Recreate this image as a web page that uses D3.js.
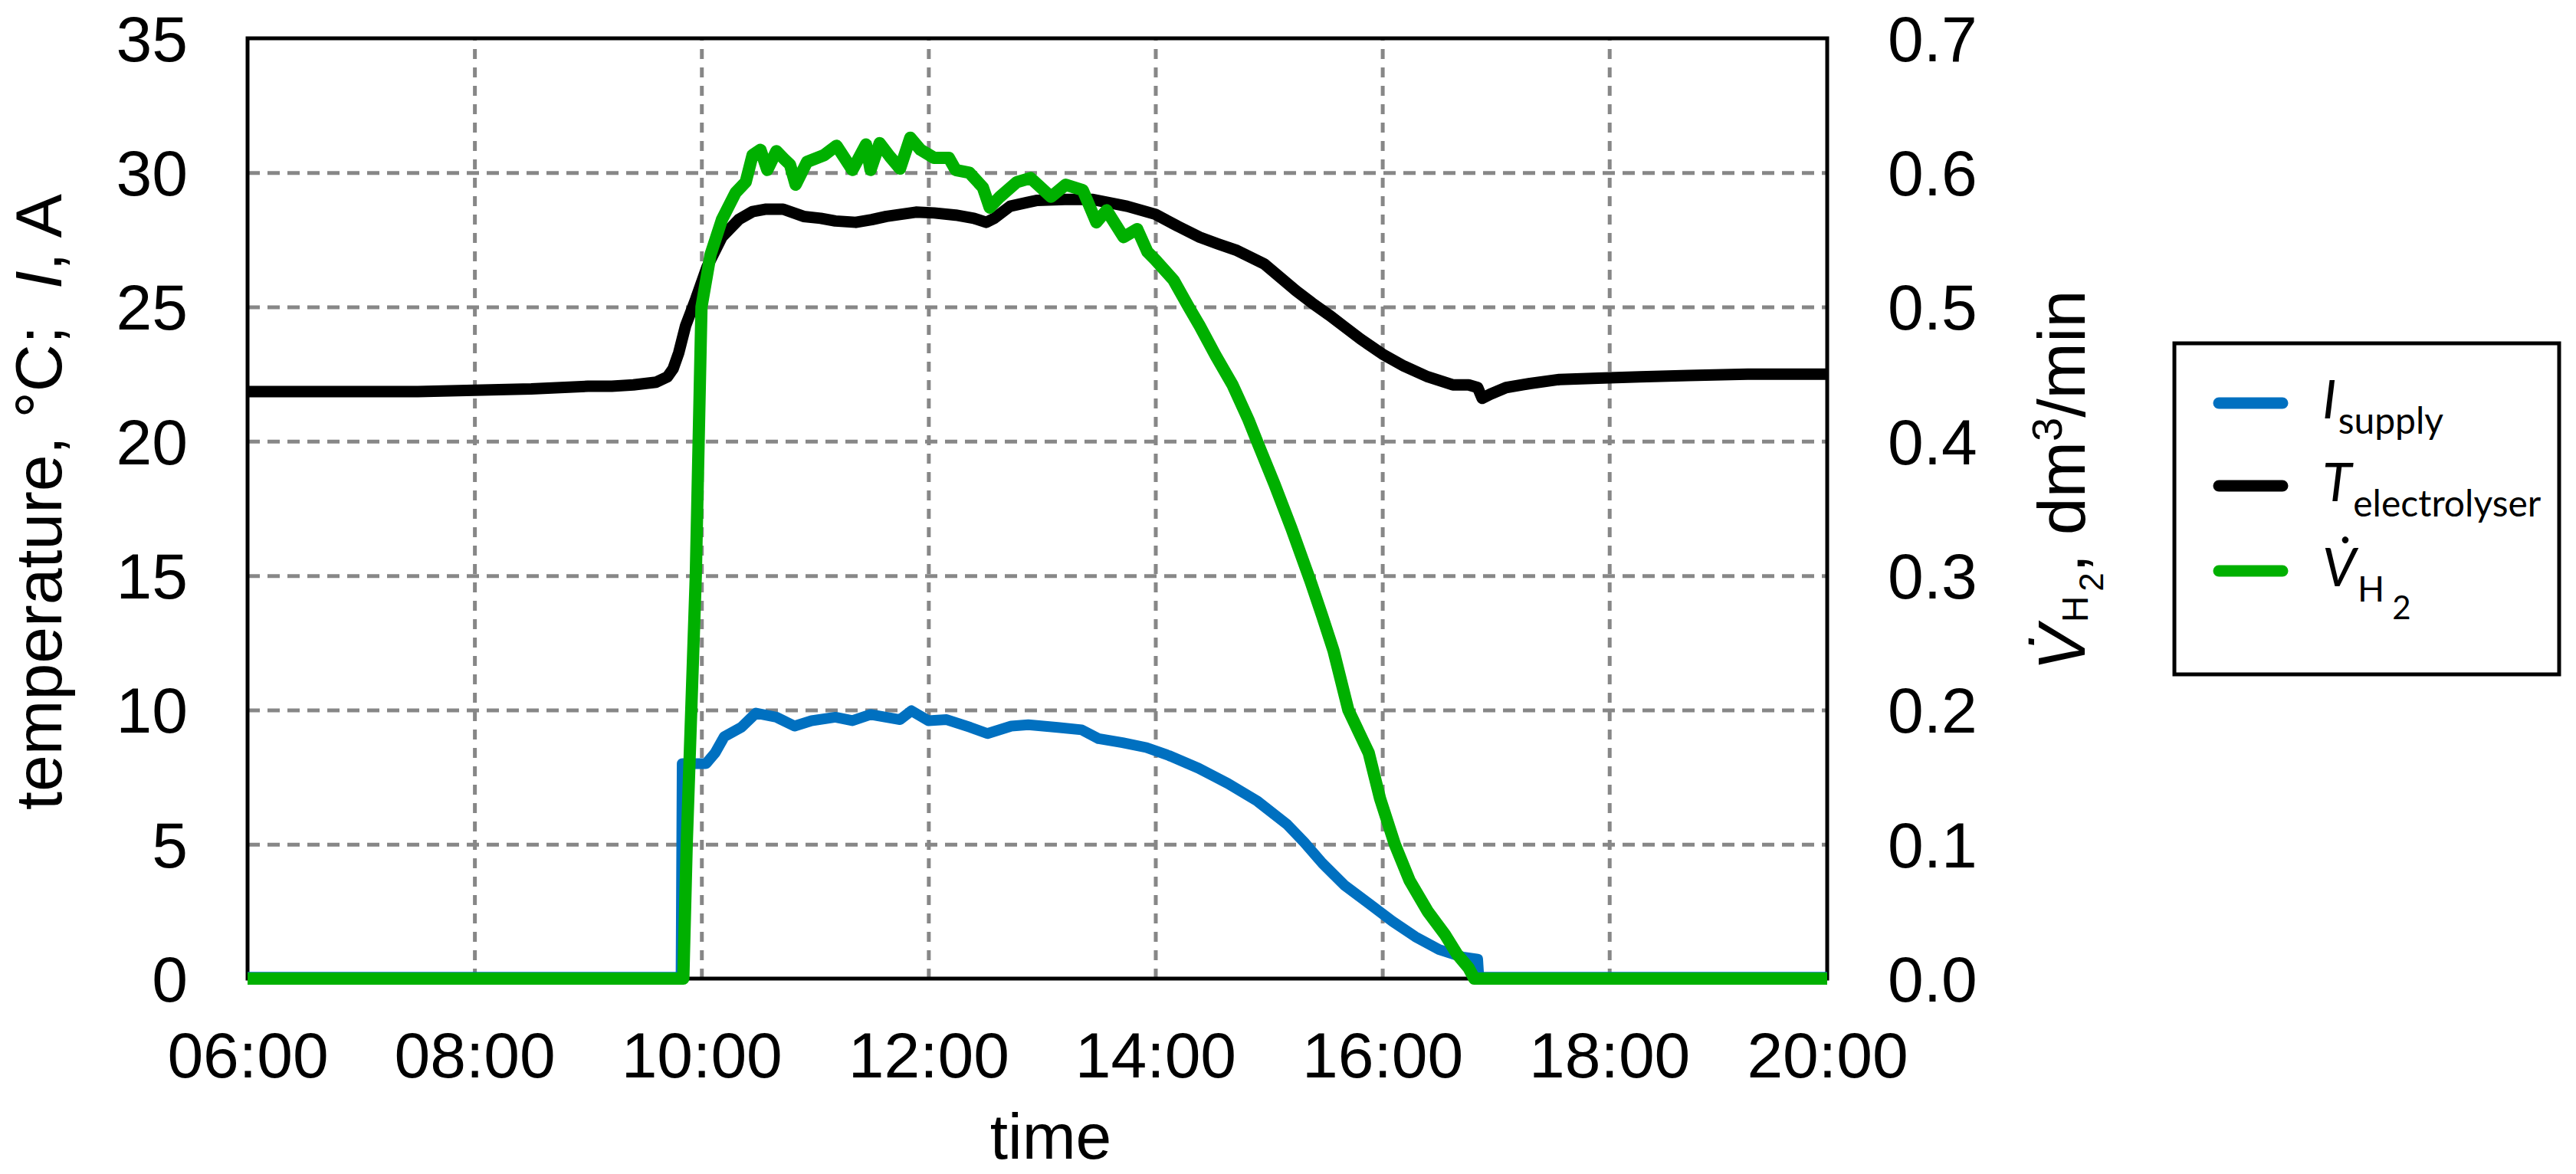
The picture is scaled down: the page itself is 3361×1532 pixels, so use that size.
<!DOCTYPE html>
<html>
<head>
<meta charset="utf-8">
<script src="https://cdn.jsdelivr.net/npm/d3@7"></script>
<style>
  html, body { margin: 0; padding: 0; background: #fff; }
  svg { display: block; }
  text { white-space: pre; }
</style>
</head>
<body>
<svg id="chart" width="3361" height="1532"></svg>
<script>
// ---------------- DATA ----------------
// time in decimal hours
const xTickHours = [6, 8, 10, 12, 14, 16, 18, 19.92];
const xTickLabels = ["06:00", "08:00", "10:00", "12:00", "14:00", "16:00", "18:00", "20:00"];
const yLeftTicks = [0, 5, 10, 15, 20, 25, 30, 35];
const yRightTicks = [0, 0.1, 0.2, 0.3, 0.4, 0.5, 0.6, 0.7];

// I_supply, A
const hoursI = [6.0, 9.82, 9.83, 10.04, 10.12, 10.2, 10.35, 10.48, 10.66, 10.82, 10.97, 11.18, 11.33, 11.49, 11.75, 11.85, 12.0, 12.16, 12.37, 12.52, 12.73, 12.88, 13.14, 13.35, 13.5, 13.71, 13.92, 14.12, 14.38, 14.64, 14.9, 15.16, 15.31, 15.47, 15.67, 15.88, 16.09, 16.29, 16.5, 16.71, 16.84, 16.85, 19.92];
const currentI = [0.05, 0.05, 8.0, 8.0, 8.4, 9.0, 9.35, 9.88, 9.73, 9.4, 9.6, 9.73, 9.6, 9.83, 9.64, 9.97, 9.6, 9.64, 9.35, 9.12, 9.4, 9.45, 9.35, 9.26, 8.93, 8.78, 8.6, 8.3, 7.83, 7.26, 6.6, 5.74, 5.08, 4.3, 3.46, 2.8, 2.13, 1.56, 1.08, 0.8, 0.72, 0.05, 0.05];

// T_electrolyser, °C
const hoursT = [6.0, 6.5, 7.0, 7.5, 8.0, 8.5, 9.0, 9.21, 9.4, 9.6, 9.7, 9.75, 9.8, 9.86, 9.95, 10.05, 10.18, 10.33, 10.45, 10.57, 10.72, 10.9, 11.05, 11.18, 11.36, 11.5, 11.63, 11.89, 12.05, 12.24, 12.4, 12.51, 12.58, 12.72, 12.88, 12.96, 13.2, 13.45, 13.75, 14.0, 14.2, 14.39, 14.55, 14.72, 14.96, 15.1, 15.24, 15.38, 15.53, 15.67, 15.81, 16.0, 16.19, 16.4, 16.62, 16.76, 16.84, 16.88, 16.95, 17.09, 17.3, 17.56, 17.9, 18.27, 18.7, 19.22, 19.6, 19.92];
const tempT = [21.85, 21.85, 21.85, 21.85, 21.9, 21.95, 22.05, 22.05, 22.1, 22.2, 22.4, 22.7, 23.3, 24.3, 25.3, 26.5, 27.6, 28.26, 28.55, 28.64, 28.64, 28.37, 28.3, 28.2, 28.15, 28.25, 28.37, 28.53, 28.5, 28.42, 28.3, 28.15, 28.3, 28.75, 28.9, 28.97, 29.0, 29.0, 28.75, 28.45, 28.0, 27.6, 27.35, 27.1, 26.6, 26.1, 25.6, 25.15, 24.7, 24.25, 23.8, 23.25, 22.8, 22.4, 22.1, 22.1, 22.0, 21.6, 21.75, 22.0, 22.15, 22.3, 22.35, 22.4, 22.45, 22.5, 22.5, 22.5];

// V_H2, dm3/min
const hoursV = [6.0, 9.84, 9.87, 9.91, 9.95, 9.98, 10.0, 10.08, 10.18, 10.3, 10.39, 10.45, 10.52, 10.58, 10.66, 10.73, 10.78, 10.83, 10.93, 11.08, 11.19, 11.33, 11.45, 11.49, 11.57, 11.66, 11.75, 11.84, 11.93, 12.05, 12.18, 12.24, 12.36, 12.48, 12.54, 12.63, 12.78, 12.9, 13.08, 13.21, 13.36, 13.48, 13.57, 13.72, 13.84, 13.93, 14.0, 14.16, 14.3, 14.39, 14.53, 14.68, 14.82, 14.91, 15.05, 15.2, 15.37, 15.47, 15.57, 15.7, 15.88, 15.98, 16.11, 16.24, 16.4, 16.55, 16.66, 16.76, 16.81, 19.92];
const flowV = [0, 0, 0.1, 0.2, 0.3, 0.42, 0.5, 0.539, 0.565, 0.585, 0.593, 0.613, 0.617, 0.602, 0.616, 0.61, 0.606, 0.591, 0.608, 0.613, 0.62, 0.602, 0.621, 0.602, 0.622, 0.612, 0.603, 0.626, 0.617, 0.611, 0.611, 0.602, 0.6, 0.589, 0.574, 0.582, 0.593, 0.596, 0.582, 0.591, 0.587, 0.563, 0.572, 0.552, 0.558, 0.541, 0.535, 0.52, 0.499, 0.486, 0.464, 0.442, 0.416, 0.397, 0.368, 0.335, 0.295, 0.27, 0.244, 0.2, 0.168, 0.134, 0.1, 0.073, 0.05, 0.033, 0.018, 0.008, 0, 0];

// ---------------- LAYOUT ----------------
const L = 323, R = 2384, T = 50, B = 1277;
const FONT = "'Liberation Sans', Arial, sans-serif";
const LFONT = "Lato, 'Open Sans', sans-serif";
const cBlue = "#0070C0", cBlack = "#000000", cGreen = "#00B000", cGrid = "#878787";

const svg = d3.select("#chart");

const x = d3.scaleLinear().domain([6, xTickHours[xTickHours.length - 1]]).range([L, R]);
const yT = d3.scaleLinear().domain([0, 35]).range([B, T]);
const yV = d3.scaleLinear().domain([0, 0.7]).range([B, T]);

// gridlines
const gridH = svg.append("g").attr("transform", `translate(${L},0)`)
  .call(d3.axisLeft(yT).tickValues(yLeftTicks.filter(v => v > 0 && v < 35)).tickSize(-(R - L)).tickFormat(""));
gridH.select(".domain").remove();
gridH.selectAll("line").attr("stroke", cGrid).attr("stroke-width", 5).attr("stroke-dasharray", "16,10");

const gridV = svg.append("g").attr("transform", `translate(0,${B})`)
  .call(d3.axisBottom(x).tickValues(xTickHours.slice(1, -1)).tickSize(-(B - T)).tickFormat(""));
gridV.select(".domain").remove();
gridV.selectAll("line").attr("stroke", cGrid).attr("stroke-width", 5).attr("stroke-dasharray", "13,11");

// plot border
svg.append("rect").attr("x", L).attr("y", T).attr("width", R - L).attr("height", B - T)
  .attr("fill", "none").attr("stroke", "#000").attr("stroke-width", 5);

// axes labels
function styleAxis(g) {
  g.select(".domain").remove();
  g.attr("font-family", FONT).attr("font-size", 84);
  g.selectAll("text").attr("fill", "#000");
}
const axL = svg.append("g").attr("transform", `translate(${L},0)`)
  .call(d3.axisLeft(yT).tickValues(yLeftTicks).tickSize(0).tickPadding(78).tickFormat(d3.format("d")));
styleAxis(axL);
axL.selectAll("text").attr("dy", "0.35em");

const axR = svg.append("g").attr("transform", `translate(${R},0)`)
  .call(d3.axisRight(yV).tickValues(yRightTicks).tickSize(0).tickPadding(79).tickFormat(d3.format(".1f")));
styleAxis(axR);
axR.selectAll("text").attr("dy", "0.35em");

const axB = svg.append("g").attr("transform", `translate(0,${B})`)
  .call(d3.axisBottom(x).tickValues(xTickHours).tickSize(0).tickPadding(69).tickFormat((d, i) => xTickLabels[i]));
styleAxis(axB);

// axis titles
svg.append("text").attr("x", 1371).attr("y", 1512).attr("text-anchor", "middle")
  .attr("font-family", FONT).attr("font-size", 84).text("time");

const lt = svg.append("text").attr("transform", "translate(80,655) rotate(-90)")
  .attr("text-anchor", "middle").attr("font-family", FONT).attr("font-size", 86);
lt.append("tspan").text("temperature, °C;  ");
lt.append("tspan").attr("font-style", "italic").text("I");
lt.append("tspan").text(", A");

const rt = svg.append("text").attr("transform", "translate(2720,875) rotate(-90)")
  .attr("text-anchor", "start").attr("font-family", FONT).attr("font-size", 88);
rt.append("tspan").attr("font-style", "italic").text("V\u0307");
rt.append("tspan").attr("font-size", 48).attr("dy", 4).attr("dx", 4).text("H");
rt.append("tspan").attr("font-size", 44).attr("dy", 20).attr("dx", 6).text("2");
rt.append("tspan").attr("dy", -24).text(", dm");
rt.append("tspan").attr("font-size", 56).attr("dy", -30).text("3");
rt.append("tspan").attr("dy", 30).text("/min");

// series lines
function drawLine(hours, vals, yScale, color, width) {
  const pts = hours.map((h, i) => [h, vals[i]]);
  svg.append("path").datum(pts)
    .attr("fill", "none").attr("stroke", color).attr("stroke-width", width)
    .attr("stroke-linejoin", "round").attr("stroke-linecap", "butt")
    .attr("d", d3.line().x(d => x(d[0])).y(d => yScale(d[1])));
}
drawLine(hoursI, currentI, yT, cBlue, 14);
drawLine(hoursT, tempT, yT, cBlack, 15);
drawLine(hoursV, flowV, yV, cGreen, 16);

// legend
const lg = svg.append("g");
lg.append("rect").attr("x", 2837).attr("y", 448).attr("width", 3339 - 2837).attr("height", 432)
  .attr("fill", "#fff").attr("stroke", "#000").attr("stroke-width", 5);
const legendItems = [
  { color: cBlue, y: 526, main: "I", sub: "supply" },
  { color: cBlack, y: 634, main: "T", sub: "electrolyser" },
  { color: cGreen, y: 745, main: "V\u0307", sub: "H" }
];
legendItems.forEach((it, i) => {
  lg.append("line").attr("x1", 2895).attr("x2", 2978).attr("y1", it.y).attr("y2", it.y)
    .attr("stroke", it.color).attr("stroke-width", 15).attr("stroke-linecap", "round");
  const t = lg.append("text").attr("x", 3030).attr("y", it.y + 20)
    .attr("font-family", LFONT).attr("font-size", 70);
  t.append("tspan").attr("font-style", "italic").text(it.main);
  if (i < 2) {
    t.append("tspan").attr("font-size", 48).attr("dy", 20).attr("dx", 2).text(it.sub);
  } else {
    t.append("tspan").attr("font-size", 46).attr("dy", 20).attr("dx", 2).text("H");
    t.append("tspan").attr("font-size", 42).attr("dy", 23).attr("dx", 10).text("2");
  }
});
</script>
</body>
</html>
